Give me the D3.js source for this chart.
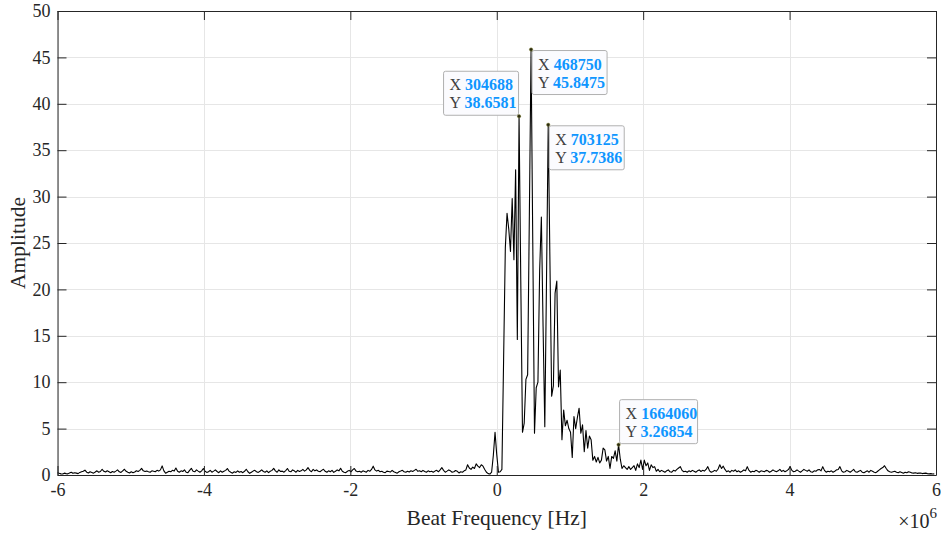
<!DOCTYPE html>
<html>
<head>
<meta charset="utf-8">
<script src="https://cdn.jsdelivr.net/npm/d3@7/dist/d3.min.js"></script>
<style>
  html, body { margin: 0; padding: 0; background: #fff; }
  svg { display: block; font-family: "Liberation Serif", "DejaVu Serif", serif; }
</style>
</head>
<body>
<svg id="chart" width="941" height="534"></svg>
<script>
// Spectrum bins: 512 bins spanning -6 MHz .. +6 MHz (bin width 23437.5 Hz)
const fStart = -6e6;
const binWidth = 23437.5;

// Amplitude, negative-frequency noise floor (bins 0..252)
const noiseNeg = [
  0.25,0.18,0.12,0.1,0.2,0.15,0.12,0.22,0.3,0.18,0.25,0.2,0.15,0.28,0.35,0.4,0.52,0.3,0.22,0.35,
  0.28,0.2,0.32,0.45,0.3,0.38,0.62,0.4,0.32,0.45,0.35,0.25,0.38,0.3,0.42,0.55,0.35,0.28,0.45,0.62,
  0.4,0.3,0.22,0.35,0.25,0.32,0.45,0.38,0.5,0.72,0.45,0.38,0.42,0.35,0.3,0.45,0.4,0.35,0.5,0.42,
  0.55,0.98,0.45,0.2,0.3,0.4,0.35,0.5,0.42,0.75,0.4,0.3,0.45,0.38,0.55,0.3,0.25,0.5,0.72,0.4,
  0.35,0.55,0.42,0.3,0.45,0.7,0.4,0.28,0.35,0.5,0.3,0.42,0.55,0.38,0.25,0.45,0.3,0.4,0.5,0.7,
  0.42,0.3,0.2,0.35,0.28,0.45,0.3,0.38,0.25,0.4,0.62,0.35,0.18,0.3,0.42,0.5,0.35,0.28,0.4,0.55,
  0.38,0.3,0.45,0.25,0.4,0.5,0.72,0.45,0.3,0.55,0.38,0.42,0.3,0.48,0.7,0.4,0.35,0.55,0.45,0.3,
  0.5,0.38,0.45,0.6,0.42,0.55,0.8,0.5,0.35,0.6,0.45,0.55,0.4,0.35,0.5,0.62,0.4,0.3,0.45,0.35,
  0.5,0.28,0.4,0.55,0.45,0.72,0.4,0.3,0.25,0.4,0.5,0.35,0.55,0.7,0.42,0.35,0.4,0.3,0.45,0.38,
  0.3,0.5,0.4,0.6,0.95,0.55,0.42,0.5,0.35,0.4,0.3,0.25,0.42,0.38,0.32,0.5,0.35,0.28,0.2,0.35,
  0.42,0.5,0.35,0.3,0.4,0.32,0.45,0.38,0.5,0.62,0.4,0.45,0.35,0.5,0.38,0.3,0.45,0.35,0.4,0.3,
  0.42,0.5,0.35,0.55,0.8,0.5,0.3,0.42,0.55,0.45,0.3,0.35,0.48,0.4,0.22,0.35,0.3,0.45,0.55,1.1,
  0.75,0.6,0.85,0.7,1.2,0.95,0.8,1.1,0.95,0.6,0.3,0.15,0.1
];

// Amplitude, beat-signal band (bins 253..349)
const beatBand = [
  0.3,2.1,4.6,2.2,0.3,0.35,0.6,12.5,24.5,28.2,
  26.5,24.1,29.8,23.2,32.9,14.6,38.6581,21.0,4.6,5.6,
  10.3,10.8,28.0,45.8475,25.0,4.5,9.4,10.0,22.0,27.8,
  16.0,5.2,21.0,37.7386,23.0,8.5,9.6,19.6,20.9,9.5,
  11.3,3.8,7.0,5.3,5.9,5.0,4.6,1.9,6.3,5.0,
  6.2,7.2,4.5,5.4,2.5,4.8,2.9,4.2,3.8,1.6,
  2.0,1.4,1.9,1.3,1.6,2.9,2.7,1.5,2.0,0.7,
  2.0,1.8,2.6,1.5,3.26854,1.7,0.7,1.0,0.8,0.6,
  0.9,0.6,0.8,1.0,0.5,1.2,0.8,1.6,0.6,1.6,
  1.0,1.3,0.5,1.1,0.8,0.9,0.4
];

// Amplitude, positive-frequency noise floor (bins 350..511)
const noisePos = [
  0.6,0.35,0.5,0.4,0.3,0.45,0.55,0.35,0.3,0.5,0.42,0.6,0.75,0.9,0.5,0.35,0.4,0.3,0.45,0.35,
  0.5,0.4,0.3,0.45,0.55,0.38,0.5,0.42,0.6,0.9,0.45,0.3,0.38,0.5,0.4,0.65,1.1,0.7,0.95,0.6,
  0.35,0.45,0.3,0.5,0.4,0.55,0.35,0.45,0.3,0.4,0.55,0.45,0.9,0.5,0.3,0.4,0.35,0.5,0.42,0.3,
  0.45,0.4,0.35,0.5,0.45,0.3,0.4,0.55,0.42,0.35,0.45,0.6,0.38,0.5,0.35,0.45,0.6,0.9,0.5,0.35,
  0.4,0.55,0.42,0.3,0.45,0.6,0.5,0.4,0.55,0.35,0.3,0.45,0.4,0.55,0.6,0.45,0.9,0.5,0.3,0.4,
  0.35,0.45,0.3,0.4,0.55,0.6,0.9,0.45,0.3,0.35,0.5,0.4,0.3,0.45,0.6,0.35,0.3,0.4,0.5,0.3,
  0.25,0.35,0.45,0.3,0.5,0.4,0.3,0.25,0.4,0.55,0.7,0.8,1.0,0.7,0.45,0.35,0.3,0.35,0.4,0.3,
  0.25,0.35,0.28,0.2,0.3,0.25,0.35,0.3,0.22,0.2,0.25,0.18,0.2,0.22,0.15,0.18,0.2,0.15,0.12,0.15,0.1,0.12
];

// Axis ticks
const xTicks = [-6e6, -4e6, -2e6, 0, 2e6, 4e6, 6e6];
const yTicks = [0, 5, 10, 15, 20, 25, 30, 35, 40, 45, 50];

// Data tips: frequency [Hz], amplitude, and which side of the point the box sits
const tipX = [304688, 468750, 703125, 1664060];
const tipY = [38.6581, 45.8475, 37.7386, 3.26854];
const tipSide = ["upleft", "downright", "downright", "upright"];

const amplitude = noiseNeg.concat(beatBand, noisePos);
const spectrum = amplitude.map((a, i) => ({ f: fStart + i * binWidth, a }));

const svg = d3.select("#chart");
const m = { left: 57.5, right: 936, top: 11, bottom: 475 };

const x = d3.scaleLinear().domain([-6e6, 6e6]).range([m.left, m.right]);
const y = d3.scaleLinear().domain([0, 50]).range([m.bottom, m.top]);

const axisColor = "#262626";
const gridColor = "#e6e6e6";

// grid
const grid = svg.append("g");
grid.selectAll("line.gx").data(xTicks).join("line")
  .attr("x1", d => Math.round(x(d)) + 0.5).attr("x2", d => Math.round(x(d)) + 0.5)
  .attr("y1", m.top).attr("y2", m.bottom)
  .attr("stroke", gridColor).attr("stroke-width", 1);
grid.selectAll("line.gy").data(yTicks).join("line")
  .attr("y1", d => Math.round(y(d)) + 0.5).attr("y2", d => Math.round(y(d)) + 0.5)
  .attr("x1", m.left).attr("x2", m.right)
  .attr("stroke", gridColor).attr("stroke-width", 1);

// spectrum trace
const line = d3.line().x(d => x(d.f)).y(d => y(d.a));
svg.append("path")
  .datum(spectrum)
  .attr("fill", "none")
  .attr("stroke", "#000")
  .attr("stroke-width", 1.1)
  .attr("stroke-linejoin", "round")
  .attr("d", line);

// axes (ticks point inward, box on)
const fmtX = d => String(d / 1e6);
function styleAxis(g) {
  g.selectAll("path.domain").attr("stroke", axisColor).attr("stroke-width", 1);
  g.selectAll(".tick line").attr("stroke", axisColor).attr("stroke-width", 1);
  g.selectAll(".tick text").attr("fill", axisColor)
    .attr("font-family", "Liberation Serif, serif").attr("font-size", 18);
}
svg.append("g").attr("transform", `translate(0,${m.bottom})`)
  .call(d3.axisBottom(x).tickValues(xTicks).tickFormat(fmtX).tickSize(-9).tickSizeOuter(0).tickPadding(8))
  .call(styleAxis);
svg.append("g").attr("transform", `translate(0,${m.top})`)
  .call(d3.axisTop(x).tickValues(xTicks).tickFormat("").tickSize(-9).tickSizeOuter(0))
  .call(styleAxis);
svg.append("g").attr("transform", `translate(${m.left},0)`)
  .call(d3.axisLeft(y).tickValues(yTicks).tickSize(-9).tickSizeOuter(0).tickPadding(7))
  .call(styleAxis);
svg.append("g").attr("transform", `translate(${m.right},0)`)
  .call(d3.axisRight(y).tickValues(yTicks).tickFormat("").tickSize(-9).tickSizeOuter(0))
  .call(styleAxis);

// axis labels
svg.append("text")
  .attr("x", (m.left + m.right) / 2).attr("y", 525)
  .attr("text-anchor", "middle").attr("font-size", 21.5).attr("fill", axisColor)
  .text("Beat Frequency [Hz]");
svg.append("text")
  .attr("transform", `translate(25,${(m.top + m.bottom) / 2}) rotate(-90)`)
  .attr("text-anchor", "middle").attr("font-size", 21.5).attr("fill", axisColor)
  .text("Amplitude");

// exponent label
const expo = svg.append("text").attr("x", m.right + 1).attr("y", 528)
  .attr("text-anchor", "end").attr("fill", axisColor);
expo.append("tspan").attr("font-size", 20).text("\u00d710");
expo.append("tspan").attr("font-size", 15).attr("dy", -10).text("6");

// data tips
const tipW = d => (String(d).length > 6 ? 78 : 75);
const tipH = 44;
tipX.forEach((fx, i) => {
  const px = x(fx), py = y(tipY[i]);
  const w = tipW(fx);
  let bx, by;
  if (tipSide[i] === "upleft") { bx = px - w - 0.5; by = py - tipH - 1; }
  else if (tipSide[i] === "downright") { bx = px + 1; by = py + 1; }
  else { bx = px + 1; by = py - tipH - 1; }
  const g = svg.append("g");
  g.append("rect")
    .attr("x", bx).attr("y", by).attr("width", w).attr("height", tipH)
    .attr("rx", 2).attr("fill", "#fbfbfe").attr("stroke", "#b0b0b0").attr("stroke-width", 1);
  const t1 = g.append("text").attr("x", bx + 6).attr("y", by + 19).attr("font-size", 16);
  t1.append("tspan").attr("fill", "#404040").text("X ");
  t1.append("tspan").attr("fill", "#0f96ff").attr("font-weight", "bold").text(fx);
  const t2 = g.append("text").attr("x", bx + 6).attr("y", by + 37).attr("font-size", 16);
  t2.append("tspan").attr("fill", "#404040").text("Y ");
  t2.append("tspan").attr("fill", "#0f96ff").attr("font-weight", "bold").text(tipY[i]);
  svg.append("circle").attr("cx", px).attr("cy", py).attr("r", 1.7)
    .attr("fill", "#2a2a10").attr("stroke", "#8a8a40").attr("stroke-width", 0.5);
});
</script>
</body>
</html>
